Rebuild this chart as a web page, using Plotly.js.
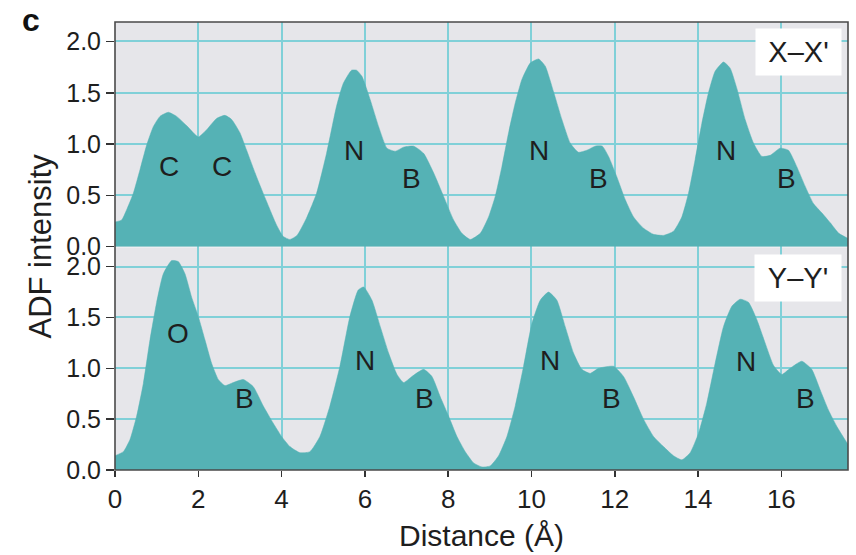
<!DOCTYPE html>
<html>
<head>
<meta charset="utf-8">
<script src="https://cdn.plot.ly/plotly-3.0.1.min.js"></script>
<style>
html,body{margin:0;padding:0;background:#fff;}
#chart{width:856px;height:555px;}
</style>
</head>
<body>
<div id="chart"></div>
<script>
// X–X' profile (top panel)
const distTop = [0,0.16,0.28,0.44,0.6,0.76,0.92,1.08,1.28,1.48,1.72,2.0,2.2,2.44,2.64,2.8,3.0,3.16,3.4,3.64,3.88,4.04,4.2,4.37,4.6,4.84,5.08,5.32,5.48,5.68,5.8,5.93,6.13,6.33,6.53,6.73,6.93,7.17,7.41,7.65,7.89,8.13,8.33,8.53,8.77,8.97,9.13,9.29,9.45,9.61,9.77,9.97,10.17,10.33,10.53,10.73,10.93,11.13,11.33,11.53,11.7,11.85,12.05,12.25,12.45,12.69,12.93,13.17,13.41,13.61,13.77,13.93,14.09,14.25,14.41,14.61,14.77,14.94,15.13,15.33,15.53,15.73,15.97,16.17,16.37,16.57,16.77,16.97,17.18,17.38,17.6];
const adfTop = [0.24,0.26,0.36,0.52,0.75,0.99,1.17,1.27,1.31,1.27,1.18,1.07,1.14,1.25,1.28,1.24,1.11,0.94,0.68,0.44,0.21,0.10,0.07,0.11,0.28,0.52,0.91,1.37,1.59,1.72,1.72,1.66,1.43,1.17,0.96,0.93,0.97,0.98,0.91,0.72,0.49,0.26,0.13,0.07,0.13,0.29,0.49,0.78,1.11,1.40,1.63,1.79,1.83,1.76,1.51,1.24,1.01,0.92,0.94,0.98,0.98,0.88,0.68,0.46,0.29,0.18,0.12,0.11,0.15,0.29,0.52,0.85,1.20,1.50,1.71,1.80,1.74,1.53,1.24,1.01,0.88,0.89,0.96,0.94,0.78,0.59,0.42,0.33,0.23,0.13,0.08];

// Y–Y' profile (bottom panel)
const distBottom = [0,0.2,0.36,0.52,0.68,0.84,1.0,1.16,1.36,1.52,1.68,1.84,2.0,2.16,2.32,2.48,2.64,2.84,3.08,3.32,3.56,3.8,4.0,4.2,4.44,4.68,4.92,5.16,5.4,5.64,5.84,5.97,6.17,6.37,6.57,6.77,6.93,7.13,7.41,7.61,7.81,8.01,8.21,8.41,8.61,8.81,9.01,9.21,9.41,9.61,9.81,10.01,10.21,10.41,10.61,10.81,11.01,11.21,11.41,11.61,11.97,12.21,12.45,12.69,12.93,13.17,13.41,13.61,13.81,14.01,14.21,14.41,14.61,14.81,15.01,15.21,15.41,15.61,15.81,16.01,16.21,16.49,16.73,16.93,17.13,17.33,17.6];
const adfBottom = [0.14,0.18,0.30,0.53,0.85,1.28,1.65,1.93,2.06,2.05,1.93,1.70,1.51,1.28,1.05,0.89,0.83,0.86,0.89,0.82,0.63,0.46,0.33,0.23,0.17,0.18,0.33,0.63,1.02,1.51,1.77,1.80,1.67,1.41,1.15,0.94,0.86,0.92,0.99,0.92,0.72,0.53,0.33,0.18,0.07,0.03,0.04,0.14,0.33,0.63,1.02,1.44,1.67,1.75,1.67,1.41,1.15,0.99,0.95,1.00,1.02,0.92,0.72,0.50,0.33,0.23,0.14,0.10,0.17,0.36,0.66,1.05,1.41,1.61,1.68,1.65,1.48,1.25,1.03,0.94,1.00,1.07,0.99,0.79,0.59,0.43,0.25];

// Atom labels
const topLabels = ['C','C','N','B','N','B','N','B'];
const topLabelX = [1.29,2.58,5.73,7.13,10.17,11.61,14.67,16.12];
const topLabelY = [0.78,0.78,0.94,0.66,0.94,0.66,0.94,0.66];
const botLabels = ['O','B','N','B','N','B','N','B'];
const botLabelX = [1.51,3.11,6.01,7.44,10.44,11.92,15.14,16.57];
const botLabelY = [1.34,0.70,1.08,0.70,1.08,0.70,1.07,0.70];

const panelNames = ["X–X'", "Y–Y'"];
const yTickVals = [0,0.5,1.0,1.5,2.0];
const xTickVals = [0,2,4,6,8,10,12,14,16];

const FILL = '#55b2b5';
const GRID = '#80d0d8';
const FONT = 'Liberation Sans, Arial, Helvetica, sans-serif';
const TXT = '#1e1e1e';

const traces = [
  {x: distBottom, y: adfBottom, xaxis:'x', yaxis:'y', type:'scatter', mode:'lines',
   line:{color:FILL, width:0.5, shape:'spline', smoothing:0.5}, fill:'tozeroy', fillcolor:FILL,
   hoverinfo:'skip', showlegend:false},
  {x: distTop, y: adfTop, xaxis:'x2', yaxis:'y2', type:'scatter', mode:'lines',
   line:{color:FILL, width:0.5, shape:'spline', smoothing:0.5}, fill:'tozeroy', fillcolor:FILL,
   hoverinfo:'skip', showlegend:false}
];

const annotations = [];
topLabels.forEach((t,i)=>annotations.push({text:t, x:topLabelX[i], y:topLabelY[i], xref:'x2', yref:'y2',
  showarrow:false, font:{family:FONT, size:28, color:TXT}}));
botLabels.forEach((t,i)=>annotations.push({text:t, x:botLabelX[i], y:botLabelY[i], xref:'x', yref:'y',
  showarrow:false, font:{family:FONT, size:28, color:TXT}}));
annotations.push({text:panelNames[0], xref:'paper', yref:'paper', x:0.932, y:0.932, xanchor:'center', yanchor:'middle',
  showarrow:false, bgcolor:'#ffffff', width:83, height:44, font:{family:FONT, size:29, color:TXT}});
annotations.push({text:panelNames[1], xref:'paper', yref:'paper', x:0.932, y:0.428, xanchor:'center', yanchor:'middle',
  showarrow:false, bgcolor:'#ffffff', width:84, height:44, font:{family:FONT, size:29, color:TXT}});
annotations.push({text:'<b>c</b>', xref:'paper', yref:'paper', x:-0.114, y:1.005, xanchor:'center', yanchor:'middle',
  showarrow:false, font:{family:FONT, size:32, color:'#111'}});

const yCommon = {range:[0,2.19], tickvals:yTickVals, tickformat:'.1f', ticks:'outside', ticklen:8, tickwidth:1.5,
  tickcolor:'#333', showgrid:true, gridcolor:GRID, gridwidth:2, zeroline:false, showline:false,
  tickfont:{family:FONT, size:25, color:TXT}, fixedrange:true};

const layout = {
  width:856, height:555,
  margin:{l:115, r:8, t:22, b:85, pad:0},
  paper_bgcolor:'#ffffff', plot_bgcolor:'#e6e6ea',
  showlegend:false,
  xaxis:{domain:[0,1], range:[0,17.6], anchor:'y', tickvals:xTickVals, ticks:'outside', ticklen:6, tickwidth:1.5,
    tickcolor:'#333', showgrid:true, gridcolor:GRID, gridwidth:2, zeroline:false, showline:false,
    tickfont:{family:FONT, size:26, color:TXT},
    title:{text:'Distance (Å)', font:{family:FONT, size:30, color:TXT}, standoff:11}},
  xaxis2:{domain:[0,1], range:[0,17.6], anchor:'y2', matches:'x', tickvals:xTickVals, ticks:'', showticklabels:false,
    showgrid:true, gridcolor:GRID, gridwidth:2, zeroline:false, showline:false},
  yaxis:Object.assign({}, yCommon, {domain:[0,0.497], anchor:'x'}),
  yaxis2:Object.assign({}, yCommon, {domain:[0.4985,1], anchor:'x2'}),
  annotations: annotations.concat([{text:'ADF intensity', xref:'paper', yref:'paper', x:-0.103, y:0.5,
    xanchor:'center', yanchor:'middle', textangle:-90, showarrow:false, font:{family:FONT, size:31, color:TXT}}]),
  shapes:[{type:'rect', xref:'paper', yref:'paper', x0:0, x1:1, y0:0, y1:1, line:{color:'#4a4a4a', width:1.6}, layer:'above'}]
};

Plotly.newPlot('chart', traces, layout, {staticPlot:true, displayModeBar:false});
</script>
</body>
</html>
